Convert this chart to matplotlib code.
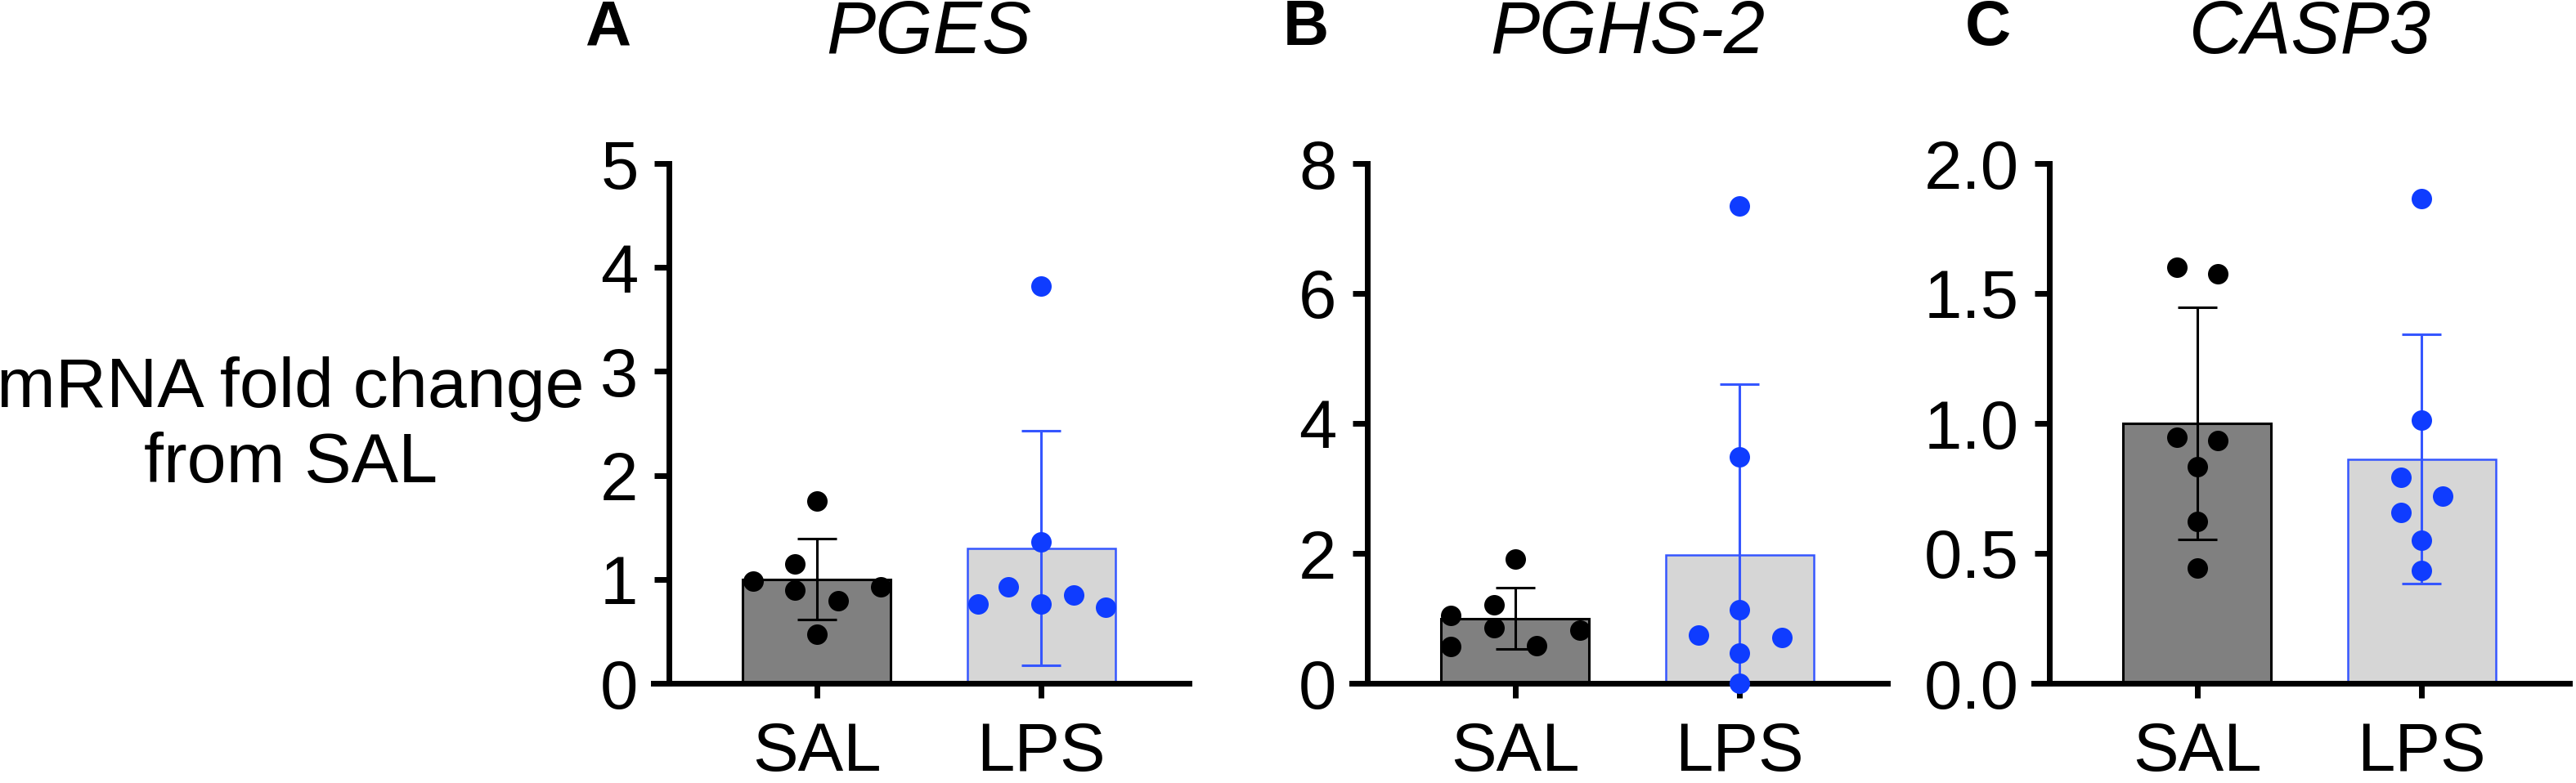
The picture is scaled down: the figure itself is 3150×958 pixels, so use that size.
import numpy as np
import matplotlib
matplotlib.use("Agg")
import matplotlib.pyplot as plt

plt.rcParams['font.family'] = ['Liberation Sans', 'DejaVu Sans']

# ---- data ----
groups = ["SAL", "LPS"]
genes = ["PGES", "PGHS-2", "CASP3"]
letters = ["A", "B", "C"]

# PGES
pges_sal = [1.755, 1.15, 0.985, 0.90, 0.925, 0.795, 0.475]
pges_lps = [3.82, 1.36, 0.93, 0.85, 0.765, 0.765, 0.735]
pges_mean = [1.00, 1.30]
pges_sd = [0.39, 1.13]
# PGHS-2
pghs_sal = [1.91, 1.21, 1.04, 0.85, 0.82, 0.56, 0.58]
pghs_lps = [7.35, 3.49, 1.13, 0.74, 0.71, 0.46, 0.00]
pghs_mean = [1.00, 1.98]
pghs_sd = [0.47, 2.62]
# CASP3
casp_sal = [1.60, 1.577, 0.948, 0.933, 0.832, 0.623, 0.442]
casp_lps = [1.866, 1.013, 0.793, 0.721, 0.656, 0.551, 0.435]
casp_mean = [1.00, 0.863]
casp_sd = [0.445, 0.479]

# horizontal spread of the dots inside a column (fraction of bar spacing)
pges_sal_dx = [0, -0.098, -0.283, -0.098, 0.286, 0.096, 0]
pges_lps_dx = [0, 0, -0.146, 0.145, -0.281, 0, 0.288]
pghs_sal_dx = [0, -0.095, -0.288, -0.095, 0.29, -0.288, 0.094]
pghs_lps_dx = [0, 0, 0, -0.184, 0.19, 0, 0]
casp_sal_dx = [-0.091, 0.092, -0.091, 0.092, 0, 0, 0]
casp_lps_dx = [0, 0, -0.092, 0.096, -0.092, 0, 0]

yticks_list = [[0, 1, 2, 3, 4, 5], [0, 2, 4, 6, 8], [0, 0.5, 1.0, 1.5, 2.0]]
ytick_fmt = ["{:.0f}", "{:.0f}", "{:.1f}"]

panels = [
    (pges_sal, pges_lps, pges_sal_dx, pges_lps_dx, pges_mean, pges_sd),
    (pghs_sal, pghs_lps, pghs_sal_dx, pghs_lps_dx, pghs_mean, pghs_sd),
    (casp_sal, casp_lps, casp_sal_dx, casp_lps_dx, casp_mean, casp_sd),
]

# ---- style ----
blue_dot = "#0f3cff"
blue_line = "#3556ff"
bar_fill = ["#808080", "#d6d6d6"]
bar_edge = ["#000000", blue_line]
err_col = ["#000000", blue_line]
dot_col = ["#000000", blue_dot]

W, H = 3150, 958
fig = plt.figure(figsize=(W / 100, H / 100), dpi=100)

ax_left = [818, 1672, 2506]   # pixel x of y-axis
ax_top, ax_bot = 200, 836
ax_w = 636
bar_w = 0.66
xmin, xmax = -0.66, 1.66

for i, (sal, lps, sdx, ldx, mean, sd) in enumerate(panels):
    ax = fig.add_axes([ax_left[i] / W, (H - ax_bot) / H, ax_w / W, (ax_bot - ax_top) / H])
    x = np.arange(len(groups))
    ax.bar(x, mean, width=bar_w, color=bar_fill, edgecolor=bar_edge,
           linewidth=[2.2, 1.8], zorder=2)
    for j in range(2):
        ax.errorbar(x[j], mean[j], yerr=sd[j], fmt='none', ecolor=err_col[j],
                    elinewidth=2.2, capsize=17, capthick=2.2, zorder=3)
    ax.plot(x[0] + np.array(sdx), sal, 'o', ms=18, color=dot_col[0],
            mec='none', zorder=4, clip_on=False)
    ax.plot(x[1] + np.array(ldx), lps, 'o', ms=18, color=dot_col[1],
            mec='none', zorder=4, clip_on=False)

    yt = yticks_list[i]
    ax.set_ylim(0, yt[-1])
    ax.set_xlim(xmin, xmax)
    ax.set_yticks(yt)
    ax.set_yticklabels([ytick_fmt[i].format(v) for v in yt])
    ax.set_xticks(x)
    ax.set_xticklabels(groups)

    for s in ['top', 'right']:
        ax.spines[s].set_visible(False)
    for s in ['left', 'bottom']:
        ax.spines[s].set_linewidth(5)
    ax.spines['bottom'].set_bounds(xmin - 0.07, xmax)
    ax.tick_params(axis='both', width=5, length=13, labelsize=60, color='black')
    ax.tick_params(axis='y', pad=14)
    ax.tick_params(axis='x', pad=20)

    ax.text(-0.118, 1.26, letters[i], transform=ax.transAxes, fontsize=56,
            fontweight='bold', ha='center', va='center')
    ax.text(0.5, 1.25, genes[i], transform=ax.transAxes, fontsize=65,
            fontstyle='italic', ha='center', va='center')

fig.text(715 / W, 1 - 522 / H, "mRNA fold change\nfrom SAL", fontsize=62,
         ha='right', va='center', multialignment='center')

plt.savefig("out.png", dpi=100)
plt.close()
